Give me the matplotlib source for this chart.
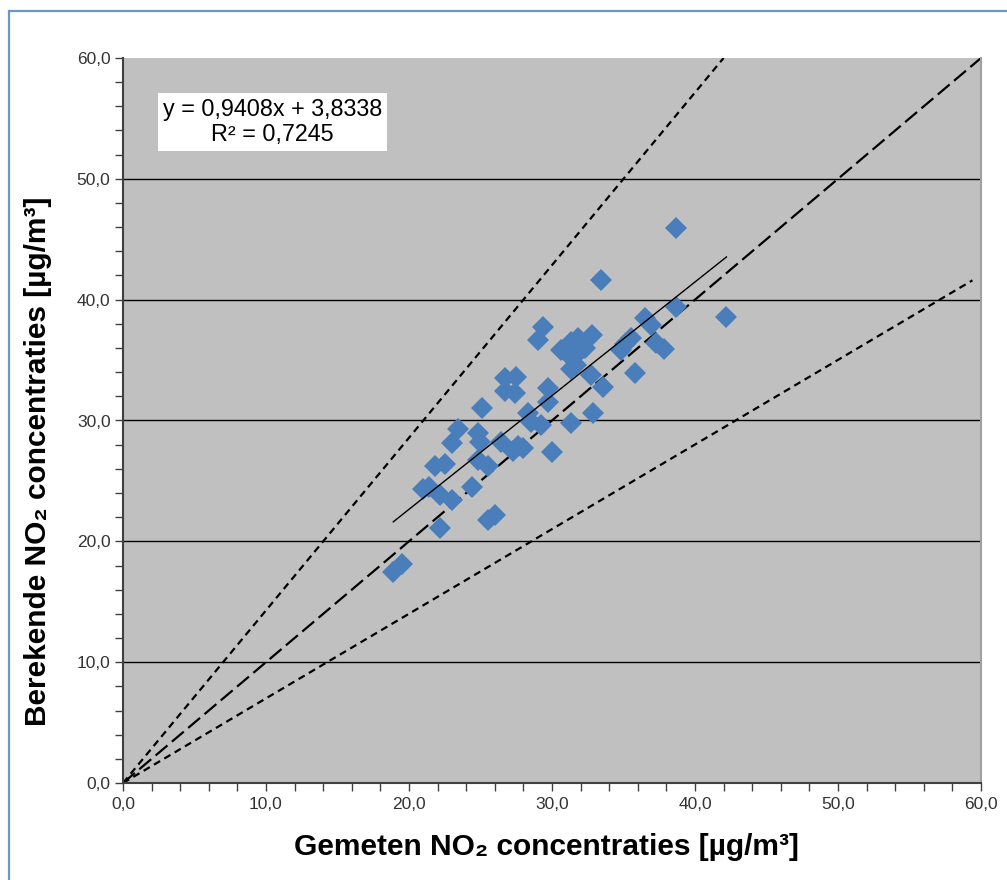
import numpy as np
import matplotlib
matplotlib.use("Agg")
import matplotlib.pyplot as plt
from matplotlib.ticker import MultipleLocator, FuncFormatter
from matplotlib.patches import Rectangle

plt.rcParams['font.family'] = ['Liberation Sans', 'DejaVu Sans']

# gemeten (x) en berekende (y) NO2 concentraties
gemeten = [18.9, 19.5, 21.0, 21.4, 21.8, 22.5, 22.2, 22.2, 23.0, 23.0,
           23.4, 24.4, 24.8, 24.8, 25.0, 25.1, 25.5, 25.5, 26.0, 26.4,
           26.7, 26.7, 27.5, 27.4, 27.3, 27.6, 28.0, 28.3, 28.5, 29.2,
           29.0, 29.4, 29.7, 29.7, 30.0, 30.6, 31.3, 31.8, 32.8, 32.3,
           31.4, 31.7, 31.3, 32.7, 31.0, 32.0, 31.3, 32.9, 33.4, 33.6,
           34.8, 35.1, 35.5, 35.8, 36.5, 36.9, 37.3, 37.8, 38.7, 38.7,
           42.2]
berekend = [17.5, 18.1, 24.3, 24.5, 26.2, 26.4, 21.1, 23.8, 23.4, 28.1,
            29.3, 24.5, 26.7, 29.0, 28.2, 31.0, 26.2, 21.8, 22.2, 28.2,
            33.5, 32.4, 33.6, 32.3, 27.5, 27.9, 27.7, 30.6, 29.9, 29.6,
            36.7, 37.7, 32.7, 31.5, 27.4, 35.8, 36.5, 36.8, 37.1, 36.0,
            35.2, 34.6, 34.3, 33.8, 35.7, 35.8, 29.8, 30.6, 41.6, 32.8,
            35.8, 36.3, 36.8, 33.9, 38.5, 37.9, 36.4, 35.9, 45.9, 39.4,
            38.6]

# trendlijn zoals in het label
helling = 0.9408
intercept = 3.8338
r2 = 0.7245

# lijnen 1:1 en +/-30%
lijn_x = [0, 60]
lijn_1op1 = [0, 60]
lijn_boven_x = [0, 42.0]
lijn_boven_y = [0, 60]
lijn_onder_x = [0, 59.4]
lijn_onder_y = [0, 41.6]

fig = plt.figure(figsize=(10.07, 8.8), dpi=100)
ax = fig.add_axes([123 / 1007, 1 - 783 / 880, 858 / 1007, 725 / 880])
ax.set_facecolor('#c0c0c0')

ax.set_xlim(0, 60)
ax.set_ylim(0, 60)

# horizontale rasterlijnen
for yv in [10, 20, 30, 40, 50]:
    ax.axhline(yv, color='black', lw=1.0, zorder=1)

ax.plot(lijn_boven_x, lijn_boven_y, color='black', lw=1.6, dashes=(3.2, 2.2), zorder=2)
ax.plot(lijn_onder_x, lijn_onder_y, color='black', lw=1.6, dashes=(3.2, 2.2), zorder=2)
ax.plot(lijn_x, lijn_1op1, color='black', lw=1.6, dashes=(7.0, 2.6), zorder=2)

ax.plot(gemeten, berekend, linestyle='none', marker='D', markersize=11,
        color='#4a7ebb', markeredgewidth=0, zorder=3)

tx = np.array([min(gemeten), max(gemeten)])
ax.plot(tx, helling * tx + intercept, color='black', lw=1.0, zorder=4)

ax.text(10.45, 54.7, f'y = {helling:.4f}x + {intercept:.4f}\nR² = {r2:.4f}'.replace('.', ','),
        ha='center', va='center', multialignment='center', fontsize=16.8,
        color='black', linespacing=1.1,
        bbox=dict(boxstyle='square,pad=0.22', facecolor='white', edgecolor='none'),
        zorder=5)

komma = FuncFormatter(lambda v, p: f'{v:.1f}'.replace('.', ','))
ax.xaxis.set_major_locator(MultipleLocator(10))
ax.yaxis.set_major_locator(MultipleLocator(10))
ax.xaxis.set_minor_locator(MultipleLocator(2))
ax.yaxis.set_minor_locator(MultipleLocator(2))
ax.xaxis.set_major_formatter(komma)
ax.yaxis.set_major_formatter(komma)
ax.tick_params(which='both', direction='out', length=6, width=1, color='#404040',
               labelsize=12.5, labelcolor='#333333')
ax.tick_params(axis='x', pad=4)
ax.tick_params(axis='y', pad=3)

for s in ['left', 'bottom']:
    ax.spines[s].set_color('#404040')
    ax.spines[s].set_linewidth(1.5)
ax.spines['top'].set_visible(False)
ax.spines['right'].set_color('#a0a0a0')
ax.spines['right'].set_linewidth(1.5)

ax.set_xlabel('Gemeten NO₂ concentraties [µg/m³]', fontsize=21.5, fontweight='bold')
ax.set_ylabel('Berekende NO₂ concentraties [µg/m³]', fontsize=21.5, fontweight='bold')
ax.xaxis.set_label_coords(0.493, -0.088)
ax.xaxis.label.set_va('center')
ax.yaxis.set_label_coords(-0.099, 0.444)
ax.yaxis.label.set_va('center')

# blauwe rand van het grafiekgebied
fig.patches.append(Rectangle((8.5 / 1007, -0.2), 2.0, 1.2 - 11 / 880,
                             transform=fig.transFigure, fill=False,
                             edgecolor='#6a96cc', lw=1.6))

fig.savefig('out.png', dpi=100)
